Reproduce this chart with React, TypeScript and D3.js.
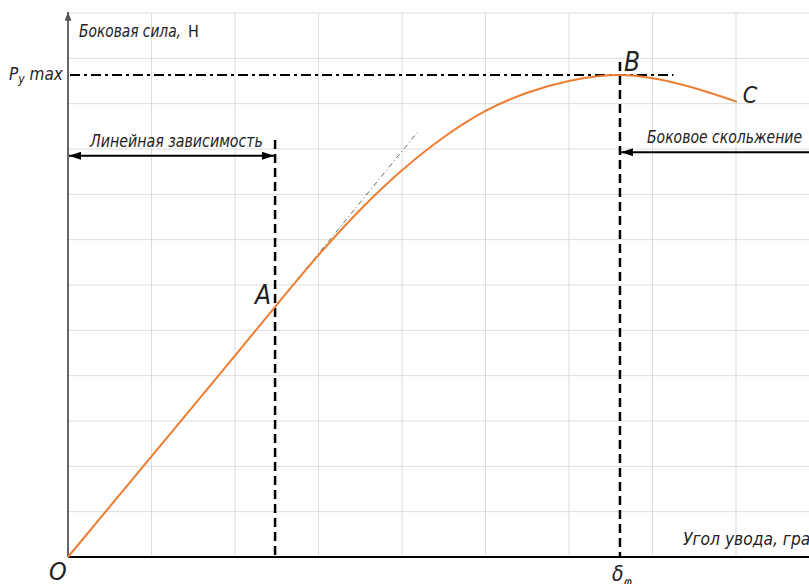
import React from "react";
import * as d3 from "d3";

// slip angle (grid units) vs lateral force (grid units)
const slipAngle = [0, 1, 2, 2.48, 3.0, 3.5, 4.0, 4.5, 5.0, 5.5, 6.0, 6.61, 7.0, 7.37, 8.01];
const lateralForce = [0, 2.22, 4.44, 5.52, 6.66, 7.66, 8.53, 9.26, 9.84, 10.24, 10.5, 10.63, 10.56, 10.41, 10.04];

// tangent at point A
const tangentX = [2.48, 4.19];
const tangentY = [5.52, 9.38];

const pointLabels = ["A", "B", "C"];
const pointIndex = [3, 11, 14];

const xGridTicks = [1, 2, 3, 4, 5, 6, 7, 8];
const yGridTicks = [1, 2, 3, 4, 5, 6, 7, 8, 9, 10, 11, 12];

const yLabel = "Боковая сила,";
const yUnit = "Н";
const xLabel = "Угол увода, град";
const linearLabel = "Линейная зависимость";
const slideLabel = "Боковое скольжение";

const W = 809;
const H = 584;
const FONT = "'Liberation Sans Narrow', 'DejaVu Sans Condensed', 'DejaVu Sans', sans-serif";
const ORANGE = "#ED7D31";

export default function App() {
	const x = d3.scaleLinear().domain([0, 8.874]).range([68, W]);
	const y = d3.scaleLinear().domain([0, 12]).range([557, 13]);

	const pts: [number, number][] = slipAngle.map((d, i) => [d, lateralForce[i]]);
	const line = d3
		.line<[number, number]>()
		.x((d) => x(d[0]))
		.y((d) => y(d[1]))
		.curve(d3.curveMonotoneX);

	const A = pts[pointIndex[0]];
	const B = pts[pointIndex[1]];
	const C = pts[pointIndex[2]];

	const linArrowY = y(8.85);
	const slideArrowY = y(8.93);
	const txt = { fontFamily: FONT, fontStyle: "italic" as const, fill: "#222" };

	return (
		<svg
			width={W}
			height={H}
			style={{ position: "absolute", left: 0, top: 0, background: "#fff" }}
		>
			<defs>
				<marker id="ah" viewBox="0 0 12 8" refX="12" refY="4" markerWidth="12" markerHeight="8" markerUnits="userSpaceOnUse" orient="auto-start-reverse">
					<path d="M0,0 L12,4 L0,8 Z" fill="#000" />
				</marker>
				<marker id="ahUp" viewBox="0 0 10 8" refX="10" refY="4" markerWidth="10" markerHeight="7" markerUnits="userSpaceOnUse" orient="auto">
					<path d="M0,0 L10,4 L0,8 Z" fill="#555" />
				</marker>
			</defs>

			{/* grid */}
			<g stroke="#dcdcdc" strokeWidth={1}>
				{xGridTicks.map((t) => (
					<line key={"gx" + t} x1={x(t)} x2={x(t)} y1={y(12)} y2={y(0)} />
				))}
				{yGridTicks.map((t) => (
					<line key={"gy" + t} x1={x(0)} x2={W} y1={y(t)} y2={y(t)} />
				))}
			</g>

			{/* axes */}
			<line x1={x(0)} x2={W} y1={y(0)} y2={y(0)} stroke="#000" strokeWidth={2} />
			<line x1={x(0)} x2={x(0)} y1={y(0)} y2={y(12) - 1} stroke="#666" strokeWidth={2} markerEnd="url(#ahUp)" />

			{/* Py max dash-dot */}
			<line x1={x(0) + 2} x2={x(7.25)} y1={y(B[1])} y2={y(B[1])} stroke="#000" strokeWidth={2} strokeDasharray="10,4,3,4" />

			{/* tangent */}
			<line x1={x(tangentX[0])} y1={y(tangentY[0])} x2={x(tangentX[1])} y2={y(tangentY[1])} stroke="#666" strokeWidth={1} strokeDasharray="5,3,1,3" />

			{/* vertical dashed lines */}
			<line x1={x(A[0])} x2={x(A[0])} y1={y(9.2)} y2={y(0)} stroke="#000" strokeWidth={2.5} strokeDasharray="9,5" />
			<line x1={x(B[0])} x2={x(B[0])} y1={y(10.92)} y2={y(0)} stroke="#000" strokeWidth={2.5} strokeDasharray="9,5" />

			{/* curve */}
			<path d={line(pts) || ""} fill="none" stroke={ORANGE} strokeWidth={2} />

			{/* arrows */}
			<line x1={x(0) + 1} x2={x(A[0]) - 1} y1={linArrowY} y2={linArrowY} stroke="#000" strokeWidth={2} markerStart="url(#ah)" markerEnd="url(#ah)" />
			<line x1={W} x2={x(B[0]) + 1} y1={slideArrowY} y2={slideArrowY} stroke="#000" strokeWidth={2} markerEnd="url(#ah)" />

			{/* texts */}
			<text x={79} y={37} fontSize={17} {...txt} textLength={102} lengthAdjust="spacingAndGlyphs">
				{yLabel}
			</text>
			<text x={188} y={37} fontSize={16} fontFamily="'DejaVu Sans Condensed', sans-serif" fill="#222">
				{yUnit}
			</text>
			<text x={9} y={80} fontSize={17} {...txt}>
				P<tspan fontSize={12} dy={3}>y</tspan>
				<tspan dy={-3}> max</tspan>
			</text>
			<text x={90} y={147} fontSize={18} {...txt} textLength={173} lengthAdjust="spacingAndGlyphs">
				{linearLabel}
			</text>
			<text x={647} y={143} fontSize={17} {...txt} textLength={155} lengthAdjust="spacingAndGlyphs">
				{slideLabel}
			</text>
			<text x={683} y={545} fontSize={17} {...txt} textLength={138} lengthAdjust="spacingAndGlyphs">
				{xLabel}
			</text>

			{/* point labels */}
			<text x={x(A[0]) - 20} y={y(A[1]) - 3} fontSize={26} {...txt}>{pointLabels[0]}</text>
			<text x={x(B[0]) + 4} y={71} fontSize={26} {...txt}>{pointLabels[1]}</text>
			<text x={x(C[0]) + 6} y={y(C[1]) + 1} fontSize={23} {...txt}>{pointLabels[2]}</text>
			<text x={49} y={580} fontSize={25} {...txt}>O</text>
			<text x={612} y={581} fontSize={21} {...txt}>
				δ<tspan fontSize={14} dy={6}>φ</tspan>
			</text>
		</svg>
	);
}
